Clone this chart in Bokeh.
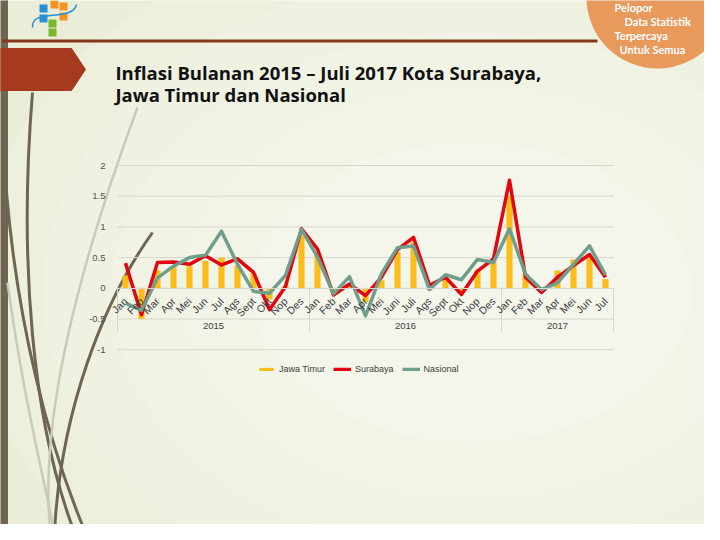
import math
from bokeh.plotting import figure
from bokeh.models import Range1d, LinearAxis, FixedTicker, Legend, LegendItem
from bokeh.core.properties import value
from bokeh.embed import file_html
from bokeh.resources import INLINE

# ---------------- data ----------------
years = ["2015"] * 12 + ["2016"] * 12 + ["2017"] * 7
months = ["Jan", "Feb", "Mar", "Apr", "Mei", "Jun", "Jul", "Ags", "Sept", "Okt", "Nop", "Des",
          "Jan", "Feb", "Mar", "Apr", "Mei", "Juni", "Juli", "Ags", "Sept", "Okt", "Nop", "Des",
          "Jan", "Feb", "Mar", "Apr", "Mei", "Jun", "Jul"]
jawa_timur = [0.21, -0.50, 0.29, 0.36, 0.36, 0.45, 0.50, 0.37, 0.24, -0.18, 0.04, 0.86,
              0.58, -0.06, 0.04, -0.22, 0.13, 0.59, 0.75, -0.03, 0.18, -0.06, 0.30, 0.44,
              1.51, 0.23, -0.03, 0.29, 0.47, 0.55, 0.15]
surabaya = [0.41, -0.43, 0.42, 0.43, 0.39, 0.53, 0.38, 0.48, 0.26, -0.35, 0.03, 0.97,
            0.64, -0.11, 0.07, -0.12, 0.18, 0.63, 0.83, 0.05, 0.18, -0.10, 0.28, 0.48,
            1.76, 0.18, -0.07, 0.18, 0.37, 0.55, 0.18]
nasional = [-0.24, -0.36, 0.17, 0.36, 0.50, 0.54, 0.93, 0.39, -0.05, -0.08, 0.21, 0.96,
            0.51, -0.09, 0.19, -0.45, 0.24, 0.66, 0.69, -0.02, 0.22, 0.14, 0.47, 0.42,
            0.97, 0.23, -0.02, 0.09, 0.39, 0.69, 0.22]
y_ticks = [-1, -0.5, 0, 0.5, 1, 1.5, 2]
y_tick_labels = ["-1", "-0.5", "0", "0.5", "1", "1.5", "2"]
year_labels = ["2015", "2016", "2017"]
series_names = ["Jawa Timur", "Surabaya", "Nasional"]
title_lines = ["Inflasi Bulanan 2015 \u2013 Juli 2017 Kota Surabaya,", "Jawa Timur dan Nasional"]
badge_lines = ["Pelopor", "Data Statistik", "Terpercaya", "Untuk Semua"]

# ---------------- layout helpers (slide pixels -> data) ----------------
W, H = 704, 524
X0, DXP = 133.0, 16.0
Y0, DYP = 295.8, 61.4


def dx(px):
    return (px - X0) / DXP


def dy(py):
    return (Y0 - py) / DYP


idx = list(range(len(months)))
n = len(idx)

p = figure(width=W, height=H, x_range=Range1d(dx(8), dx(8 + W)), y_range=Range1d(dy(8 + H), dy(8)),
           output_backend="svg", toolbar_location=None, min_border=0,
           x_axis_type=None, y_axis_type=None)
p.background_fill_color = "#eaeed8"
p.border_fill_color = "#eaeed8"
p.outline_line_color = None

# soft radial lightening of the slide background
for k, (ew, eh) in enumerate([(1000, 760), (860, 640), (720, 520), (580, 410), (440, 300)]):
    p.ellipse(x=[dx(480)], y=[dy(300)], width=[ew], height=[eh], width_units="screen",
              height_units="screen", fill_color="#ffffff", fill_alpha=0.14, line_color=None)

# decorative slide elements
p.quad(left=[dx(0)], right=[dx(15)], bottom=[dy(540)], top=[dy(0)], color="#6e6650")
p.bezier(x0=[dx(40), dx(14), dx(160)], y0=[dy(100), dy(200), dy(240)],
         x1=[dx(82), dx(93), dx(62)], y1=[dy(540), dy(540), dy(540)],
         cx0=[dx(26), dx(25), dx(110)], cy0=[dy(270), dy(330), dy(310)],
         cx1=[dx(40), dx(55), dx(68)], cy1=[dy(430), dy(450), dy(420)],
         line_color="#6e6650", line_width=3)
p.bezier(x0=[dx(145), dx(15)], y0=[dy(115), dy(290)], x1=[dx(58), dx(62)], y1=[dy(540), dy(540)],
         cx0=[dx(95), dx(30)], cy0=[dy(250), dy(400)], cx1=[dx(45), dx(50)], cy1=[dy(420), dy(480)],
         line_color="#c9cbb8", line_width=2.5)
p.segment(x0=[dx(10)], y0=[dy(48.5)], x1=[dx(605)], y1=[dy(48.5)], line_color="#86361a", line_width=3)
p.patch(x=[dx(0), dx(79), dx(93), dx(79), dx(0)], y=[dy(56), dy(56), dy(77), dy(98), dy(98)],
        color="#a63a1e")
p.scatter(x=[dx(665)], y=[dy(5)], size=142, marker="circle", fill_color="#e8995c", line_color=None)
# logo
p.quad(left=[dx(47), dx(47), dx(58), dx(67), dx(67), dx(56), dx(56)],
       right=[dx(55), dx(55), dx(66), dx(75), dx(75), dx(64), dx(64)],
       top=[dy(12), dy(22), dy(8), dy(10), dy(20), dy(27), dy(36)],
       bottom=[dy(20), dy(30), dy(16), dy(18), dy(28), dy(35), dy(44)],
       fill_color=["#2a8fd6", "#2a8fd6", "#f39322", "#f39322", "#f39322", "#7cb82f", "#7cb82f"],
       line_color=None)
p.bezier(x0=[dx(40)], y0=[dy(35)], x1=[dx(84)], y1=[dy(12)], cx0=[dx(38)], cy0=[dy(15)],
         cx1=[dx(80)], cy1=[dy(30)], line_color="#2a8fd6", line_width=1.5)

p.text(x=[dx(123), dx(123)], y=[dy(80), dy(102)], text=title_lines, text_font=value("Open Sans"),
       text_font_style="bold", text_font_size="18.5px", text_color="#111111",
       text_baseline="alphabetic")
p.text(x=[dx(622), dx(632), dx(622), dx(627)], y=[dy(15), dy(29), dy(43), dy(57)], text=badge_lines,
       text_font=value("Lato"), text_font_style="bold", text_font_size="11px", text_color="#ffffff",
       text_baseline="alphabetic")

# ---------------- chart ----------------
p.segment(x0=[-0.5] * len(y_ticks), x1=[n - 0.5] * len(y_ticks), y0=y_ticks, y1=y_ticks,
          line_color="#d6d8cf", line_width=1)

bars = p.vbar(x=idx, top=jawa_timur, bottom=0, width=0.38, fill_color="#fbbd17", line_color=None)
red = p.line(idx, surabaya, line_color="#e1060f", line_width=3.5, line_join="round")
green = p.line(idx, nasional, line_color="#6f9e8c", line_width=3.5, line_join="round")

xa = LinearAxis(fixed_location=0, ticker=FixedTicker(ticks=idx),
                major_label_overrides={i: m for i, m in zip(idx, months)},
                major_label_orientation=math.pi / 4, bounds=(-0.5, n - 0.5),
                axis_line_color="#d6d8cf", major_tick_line_color=None, minor_tick_line_color=None,
                major_label_text_font_size="10.5px", major_label_text_color="#404040",
                major_label_text_font="Liberation Sans", major_label_standoff=5)
p.add_layout(xa, "below")

ya = LinearAxis(fixed_location=-0.5, ticker=FixedTicker(ticks=y_ticks),
                major_label_overrides=dict(zip(y_ticks, y_tick_labels)), bounds=(-1, 2),
                axis_line_color=None, major_tick_line_color=None, minor_tick_line_color=None,
                major_label_text_font_size="9.5px", major_label_text_color="#505050",
                major_label_text_font="Liberation Sans", major_label_standoff=6)
p.add_layout(ya, "left")

# year groups
group_centers = []
boundaries = [-0.5]
for yl in year_labels:
    members = [i for i in idx if years[i] == yl]
    group_centers.append(sum(members) / len(members))
    boundaries.append(members[-1] + 0.5)
p.segment(x0=boundaries, x1=boundaries, y0=[0] * len(boundaries), y1=[dy(340)] * len(boundaries),
          line_color="#d6d8cf", line_width=1)
p.text(x=group_centers, y=[dy(333)] * len(group_centers), text=year_labels,
       text_font=value("Liberation Sans"), text_font_size="9.5px", text_color="#404040",
       text_align="center", text_baseline="middle")

legend = Legend(items=[LegendItem(label=series_names[0], renderers=[bars]),
                       LegendItem(label=series_names[1], renderers=[red]),
                       LegendItem(label=series_names[2], renderers=[green])],
                orientation="horizontal", location=(257, 149), background_fill_alpha=0,
                border_line_color=None, glyph_width=18, glyph_height=4, label_height=12,
                label_text_font_size="9px", label_text_font="Liberation Sans",
                label_text_color="#404040", label_standoff=4, spacing=8, padding=0, margin=0)
p.add_layout(legend)

open("out.html", "w").write(file_html(p, INLINE))
